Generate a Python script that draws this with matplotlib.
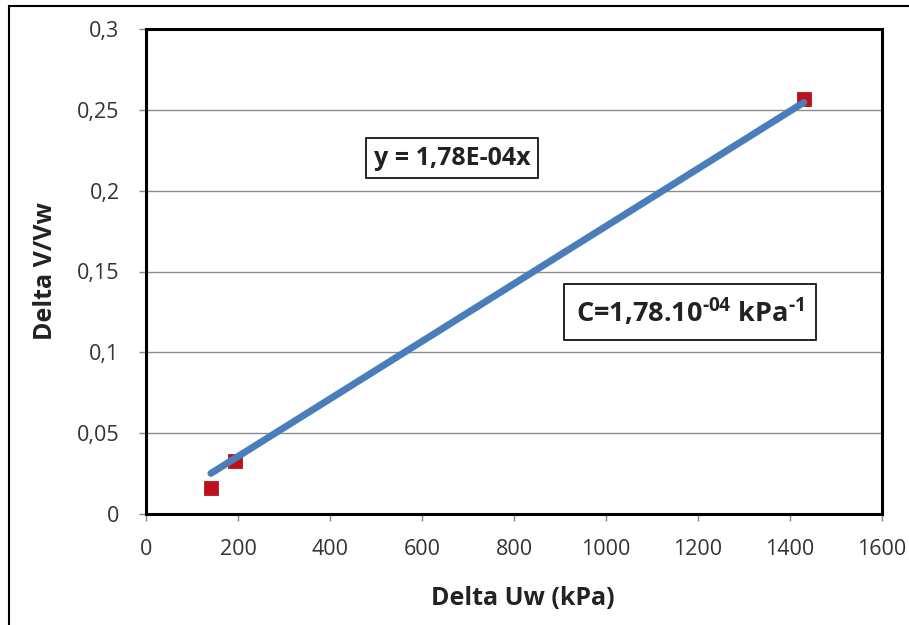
import matplotlib
matplotlib.use("Agg")
import matplotlib.pyplot as plt
import matplotlib.patches as mpatches
import numpy as np

plt.rcParams['font.family'] = ['Open Sans', 'DejaVu Sans']
plt.rcParams['mathtext.fontset'] = 'custom'
plt.rcParams['mathtext.rm'] = 'Open Sans:bold'
plt.rcParams['mathtext.bf'] = 'Open Sans:bold'

# Data
delta_uw = [141, 194, 1430]
delta_v_vw = [0.0161, 0.0325, 0.2565]
slope = 1.78e-4
x_ticks = [0, 200, 400, 600, 800, 1000, 1200, 1400, 1600]
y_ticks = [0, 0.05, 0.1, 0.15, 0.2, 0.25, 0.3]
y_tick_labels = ['0', '0,05', '0,1', '0,15', '0,2', '0,25', '0,3']

fig = plt.figure(figsize=(9.09, 6.25), dpi=100)
ax = fig.add_axes([146/909, 1 - 514/625, (882-146)/909, (514-29)/625])

# outer frame (left and top visible)
fig.patches.append(mpatches.Rectangle((9/909, -0.1), 1.2, 1 - 6/625 + 0.1,
                                      transform=fig.transFigure, fill=False,
                                      edgecolor='black', linewidth=1.5))

ax.set_xlim(0, 1600)
ax.set_ylim(0, 0.3)
ax.set_xticks(x_ticks)
ax.set_xticklabels([str(t) for t in x_ticks])
ax.set_yticks(y_ticks)
ax.set_yticklabels(y_tick_labels)
ax.yaxis.grid(True, color='#8c8c8c', linewidth=1.0)
ax.set_axisbelow(True)

for s in ax.spines.values():
    s.set_linewidth(2.2)
    s.set_color('black')

ax.tick_params(axis='both', direction='out', length=5, width=1, color='#888888',
               labelsize=15.5, labelcolor='#333333')
ax.tick_params(axis='x', pad=13)
ax.tick_params(axis='y', pad=14)

# trendline
xs = np.array([min(delta_uw), max(delta_uw)])
ax.plot(xs, slope * xs, color='#4a7ebb', linewidth=5, solid_capstyle='round', zorder=3)

ax.scatter(delta_uw, delta_v_vw, marker='s', s=100, color='#c0101a', zorder=2,
           edgecolors='#a00010', linewidths=0.5)

ax.set_xlabel('Delta Uw (kPa)', fontsize=18, fontweight='bold', color='#222222', labelpad=19)
ax.xaxis.label.set_x((523 - 146) / 736)
ax.set_ylabel('Delta V/Vw', fontsize=18, fontweight='bold', color='#222222', labelpad=14)

ax.text(665, 0.2202, 'y = 1,78E-04x', fontsize=18, fontweight='bold', ha='center', va='center',
        bbox=dict(boxstyle='square,pad=0.3', facecolor='white', edgecolor='black', linewidth=1.2),
        color='#222222')
ax.text(1183, 0.125, r'C=1,78.10$^{\text{-04}}$ kPa$^{\text{-1}}$', fontsize=19.5, fontweight='bold',
        ha='center', va='center',
        bbox=dict(boxstyle='square,pad=0.45', facecolor='white', edgecolor='black', linewidth=1.2),
        color='#222222')

fig.savefig('out.png', dpi=100)
